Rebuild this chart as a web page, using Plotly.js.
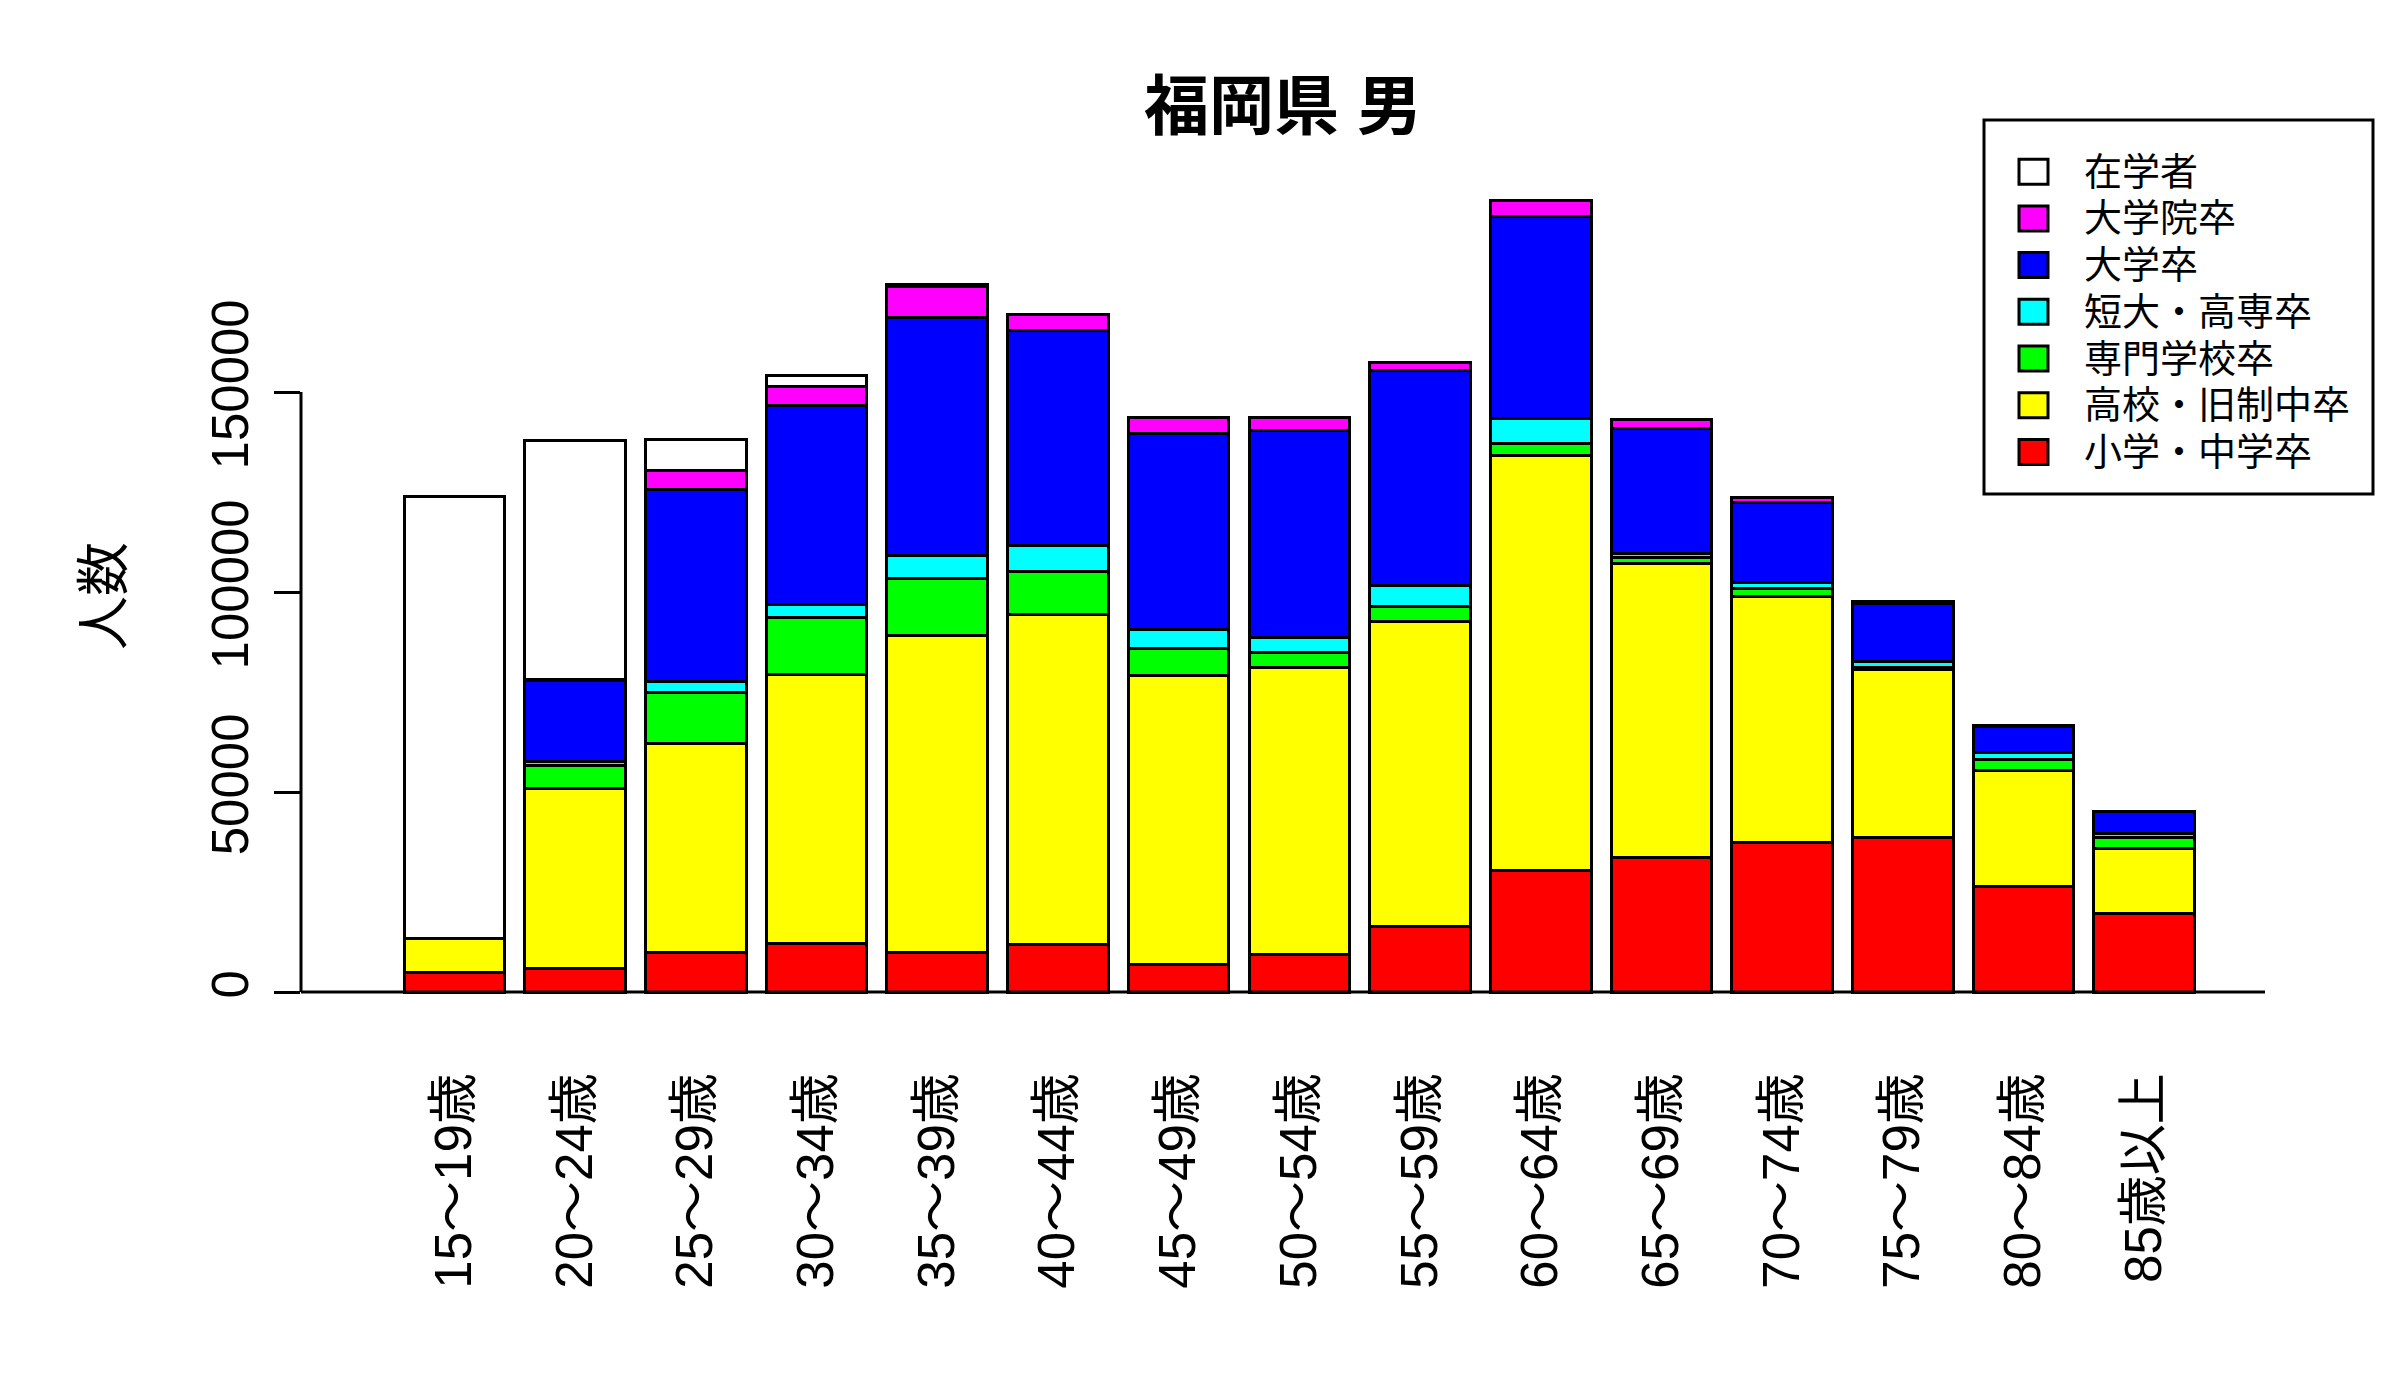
<!DOCTYPE html>
<html>
<head>
<meta charset="utf-8">
<script src="https://cdn.plot.ly/plotly-3.0.1.min.js"></script>
<style>html,body{margin:0;padding:0;background:#fff;}#chart{width:2400px;height:1400px;}</style>
</head>
<body>
<div id="chart"></div>
<script>
const ageGroups = ["15～19歳","20～24歳","25～29歳","30～34歳","35～39歳","40～44歳","45～49歳","50～54歳","55～59歳","60～64歳","65～69歳","70～74歳","75～79歳","80～84歳","85歳以上"];
const seriesNames = ["小学・中学卒","高校・旧制中卒","専門学校卒","短大・高専卒","大学卒","大学院卒","在学者"];
const seriesColors = ["#FF0000","#FFFF00","#00FF00","#00FFFF","#0000FF","#FF00FF","#FFFFFF"];
const elementary = [4850, 5800, 9950, 12100, 9950, 11900, 6900, 9300, 16450, 30300, 33600, 37500, 38600, 26400, 19600];
const highSchool = [8500, 45100, 52100, 67200, 79200, 82450, 72150, 71850, 76150, 103850, 73550, 61400, 41950, 29000, 16250];
const vocational = [0, 5800, 12850, 14450, 14200, 10900, 6800, 3700, 3850, 3000, 1500, 1950, 600, 2750, 2700];
const juniorCollege = [0, 850, 2800, 3150, 5800, 6300, 4850, 3900, 5100, 6300, 1100, 1500, 1450, 1750, 1150];
const university = [0, 20250, 48000, 49800, 59400, 53950, 49000, 51650, 53900, 50350, 31250, 20150, 14500, 6600, 5350];
const graduate = [0, 300, 4600, 4600, 7900, 3900, 4000, 3200, 2050, 4150, 2050, 1100, 500, 200, 150];
const students = [110650, 59700, 7900, 2900, 500, 0, 0, 0, 0, 0, 0, 0, 0, 0, 0];
const yTicks = [0, 50000, 100000, 150000];
const seriesValues = [elementary, highSchool, vocational, juniorCollege, university, graduate, students];

const FONT = "Liberation Sans, Arial, Noto Sans CJK JP, sans-serif";
const W = 2400, H = 1400;
const plotL = 301, plotR = 2265, plotB = 1024, plotT = 168, zeroPx = 992, perPx = 250;
const pw = plotR - plotL, ph = plotB - plotT;
const yRange = [-(plotB - zeroPx) * perPx, (zeroPx - plotT) * perPx];
const px2x = p => (p - plotL) / pw;
const px2y = p => (plotB - p) / ph;

const traces = seriesNames.map((name, i) => ({
  type: "bar", name: name, x: ageGroups, y: seriesValues[i],
  marker: {color: seriesColors[i], line: {color: "#000", width: 3}},
  showlegend: false, hoverinfo: "x+y+name"
}));

const shapes = [];
const annotations = [];
// R-style legend box
shapes.push({type: "rect", xref: "paper", yref: "paper",
  x0: px2x(1984), x1: px2x(2373), y0: px2y(494), y1: px2y(120),
  line: {color: "#000", width: 3}, fillcolor: "rgba(0,0,0,0)"});
for (let k = 0; k < seriesNames.length; k++) {
  const idx = seriesNames.length - 1 - k;
  const cy = 171.7 + k * 46.7;
  shapes.push({type: "rect", xref: "paper", yref: "paper",
    x0: px2x(2019), x1: px2x(2048), y0: px2y(cy + 12.5), y1: px2y(cy - 12.5),
    line: {color: "#000", width: 3}, fillcolor: seriesColors[idx]});
  annotations.push({xref: "paper", yref: "paper", x: px2x(2082), y: px2y(cy),
    xanchor: "left", yanchor: "middle", showarrow: false, text: seriesNames[idx],
    font: {family: FONT, size: 38, color: "#000"}});
}
// R-style y axis line spanning only the ticks
shapes.push({type: "line", xref: "paper", yref: "y", x0: 0, x1: 0,
  y0: yTicks[0], y1: yTicks[yTicks.length - 1], line: {color: "#000", width: 3}});
// baseline at zero across the plot region
shapes.push({type: "line", xref: "paper", yref: "y", x0: 0, x1: 1,
  y0: 0, y1: 0, line: {color: "#000", width: 3}});

const layout = {
  width: W, height: H,
  paper_bgcolor: "#fff", plot_bgcolor: "#fff",
  margin: {l: plotL, r: W - plotR, t: plotT, b: H - plotB, pad: 0},
  barmode: "stack", bargap: 1 - 1/1.2,
  title: {text: "<b>福岡県 男</b>", x: 0.5, xref: "paper", y: 1 - 106 / H, yanchor: "middle",
    font: {family: FONT, size: 65, color: "#000"}},
  xaxis: {type: "category", range: [-1.27, 15.0], showgrid: false, zeroline: false,
    showline: false, ticks: "", tickangle: -90,
    ticklabelstandoff: 38, automargin: false,
    tickfont: {family: FONT, size: 51, color: "#000"}},
  yaxis: {range: yRange, tickvals: yTicks, ticktext: yTicks.map(String),
    showgrid: false, zeroline: false, showline: false,
    ticks: "outside", ticklen: 26, tickwidth: 3, tickcolor: "#000",
    tickangle: -90, ticklabelstandoff: 6, automargin: false,
    tickfont: {family: FONT, size: 51, color: "#000"},
    title: {text: "人数", standoff: 60, font: {family: FONT, size: 54, color: "#000"}}},
  shapes: shapes, annotations: annotations
};
Plotly.newPlot("chart", traces, layout, {displayModeBar: false, staticPlot: true});
</script>
</body>
</html>
